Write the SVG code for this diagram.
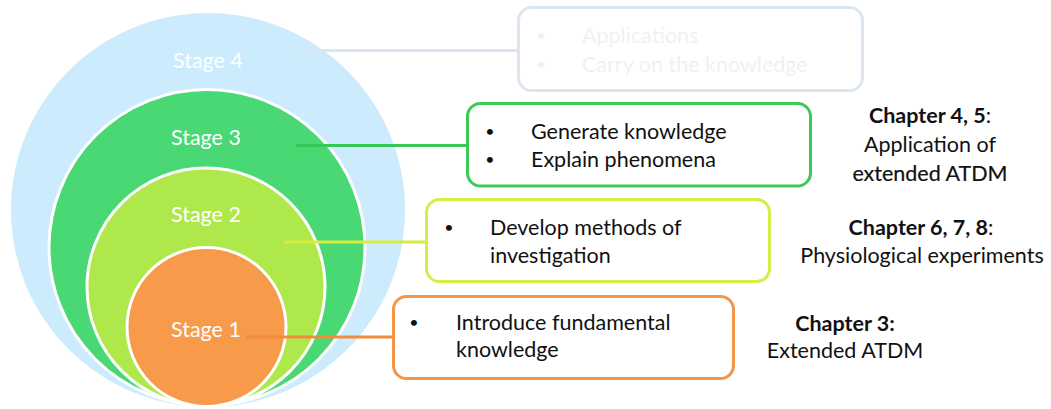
<svg xmlns="http://www.w3.org/2000/svg" width="1051" height="409" viewBox="0 0 1051 409">
<style>
  text { font-family: Lato, "Open Sans", "Liberation Sans", sans-serif; font-size: 21.5px; }
  .stage { fill: #FFFFFF; text-anchor: middle; }
  .ring { stroke: #FFFFFF; stroke-width: 3; }
  .box { fill: #FFFFFF; stroke-width: 3; }
  .txt { fill: #111111; }
  .faint { fill: #EFF1F4; }
  .bul { text-anchor: middle; font-size: 16px; }
  .chap { fill: #111111; text-anchor: middle; }
  .b { font-weight: bold; }
  .conn { fill: none; stroke-width: 3; }
</style>
<rect width="1051" height="409" fill="#FFFFFF"/>

<g id="stage4">
  <circle cx="208" cy="210" r="197" fill="#CCEBFD"/>
  <text class="stage" x="208" y="68">Stage 4</text>
</g>
<g id="stage3">
  <circle cx="207" cy="247.5" r="158" fill="#4AD874" class="ring"/>
  <text class="stage" x="206" y="145">Stage 3</text>
</g>
<g id="stage2">
  <circle cx="206" cy="287" r="119" fill="#AEE84A" class="ring"/>
  <text class="stage" x="206" y="222">Stage 2</text>
</g>
<g id="stage1">
  <circle cx="206.5" cy="327" r="79.5" fill="#F79A4A" class="ring"/>
  <text class="stage" x="206" y="337">Stage 1</text>
</g>

<g id="connectors">
  <line class="conn" x1="296" y1="50.5" x2="518" y2="50.5" stroke="#DCE6F2"/>
  <line class="conn" x1="296" y1="145.5" x2="467" y2="145.5" stroke="#36C756"/>
  <line class="conn" x1="284" y1="242" x2="426" y2="242" stroke="#D6EC40" stroke-width="2.5"/>
  <line class="conn" x1="246" y1="337" x2="393" y2="337" stroke="#F28C3C"/>
</g>

<g id="box4">
  <rect class="box" x="518.5" y="7.5" width="344" height="83" rx="13" stroke="#DCE6F2"/>
  <text class="faint bul" x="541" y="41">•</text>
  <text class="faint" x="582" y="43">Applications</text>
  <text class="faint bul" x="541" y="70">•</text>
  <text class="faint" x="582" y="72">Carry on the knowledge</text>
</g>
<g id="box3">
  <rect class="box" x="467.5" y="103.5" width="343" height="82.5" rx="13" stroke="#3DC955"/>
  <text class="txt bul" x="490" y="137">•</text>
  <text class="txt" x="531" y="139">Generate knowledge</text>
  <text class="txt bul" x="490" y="165">•</text>
  <text class="txt" x="531" y="167">Explain phenomena</text>
</g>
<g id="box2">
  <rect class="box" x="426.5" y="199.5" width="343" height="82" rx="13" stroke="#D4EE45"/>
  <text class="txt bul" x="449" y="233">•</text>
  <text class="txt" x="490" y="235">Develop methods of</text>
  <text class="txt" x="490" y="263">investigation</text>
</g>
<g id="box1">
  <rect class="box" x="393.5" y="296.5" width="340" height="82" rx="13" stroke="#F59546"/>
  <text class="txt bul" x="414" y="328">•</text>
  <text class="txt" x="456" y="330">Introduce fundamental</text>
  <text class="txt" x="456" y="357">knowledge</text>
</g>

<g id="chapter45">
  <text class="chap" x="930" y="123"><tspan class="b">Chapter 4, 5</tspan>:</text>
  <text class="chap" x="930" y="152">Application of</text>
  <text class="chap" x="930" y="181" stroke="#111111" stroke-width="0.2">extended ATDM</text>
</g>
<g id="chapter678">
  <text class="chap" x="921" y="235"><tspan class="b">Chapter 6, 7, 8</tspan>:</text>
  <text class="chap" x="922" y="263">Physiological experiments</text>
</g>
<g id="chapter3">
  <text class="chap b" x="845" y="331">Chapter 3:</text>
  <text class="chap" x="845" y="358">Extended ATDM</text>
</g>
</svg>
